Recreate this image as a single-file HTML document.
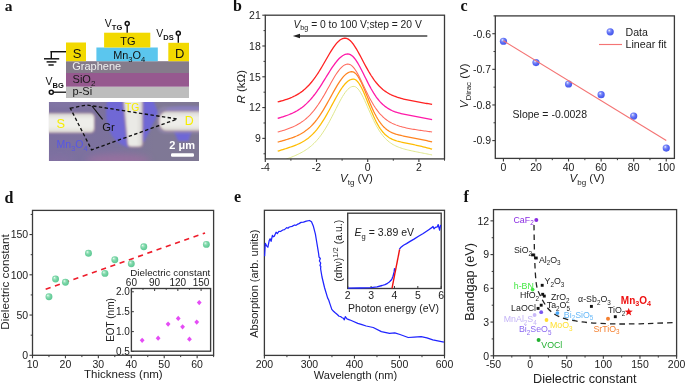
<!DOCTYPE html>
<html><head><meta charset="utf-8"><style>
html,body{margin:0;padding:0;background:#fff;}
svg{display:block;font-family:"Liberation Sans", sans-serif;will-change:transform;}
</style></head><body>
<svg width="685" height="384" viewBox="0 0 685 384">
<rect width="685" height="384" fill="#fff"/>
<text x="4.8" y="11" font-family="Liberation Serif" font-weight="bold" font-size="15.5" fill="#111">a</text>
<line x1="50.60" y1="51.70" x2="66.00" y2="51.70" stroke="#111" stroke-width="1.45" />
<line x1="51.30" y1="51.00" x2="51.30" y2="58.80" stroke="#111" stroke-width="1.45" />
<line x1="44.00" y1="58.80" x2="59.20" y2="58.80" stroke="#111" stroke-width="1.45" />
<line x1="46.60" y1="61.90" x2="56.40" y2="61.90" stroke="#111" stroke-width="1.45" />
<line x1="48.40" y1="65.00" x2="53.70" y2="65.00" stroke="#111" stroke-width="1.45" />
<rect x="66.00" y="61.20" width="123.00" height="11.80" fill="#857b8b" />
<rect x="66.00" y="73.00" width="123.00" height="13.80" fill="#96598f" />
<rect x="66.00" y="86.80" width="123.00" height="11.20" fill="#bdbdbd" />
<rect x="66.00" y="42.50" width="20.00" height="18.70" fill="#f2d900" />
<rect x="96.40" y="47.50" width="61.40" height="13.70" fill="#5bc6ee" />
<rect x="104.10" y="32.70" width="46.20" height="14.80" fill="#f2d900" />
<rect x="168.30" y="42.80" width="20.70" height="18.40" fill="#f2d900" />
<text x="77.10" y="57.60" font-size="13" text-anchor="middle" fill="#111" >S</text>
<text x="128.00" y="44.70" font-size="11" text-anchor="middle" fill="#111" >TG</text>
<text x="113.2" y="59" font-size="10.9" fill="#111">Mn<tspan font-size="7.6" dy="2.8">3</tspan><tspan dy="-2.8">O</tspan><tspan font-size="7.6" dy="2.8">4</tspan></text>
<text x="179.70" y="57.70" font-size="13" text-anchor="middle" fill="#111" >D</text>
<text x="72.20" y="70.20" font-size="11" text-anchor="start" fill="#eeeeee" >Graphene</text>
<text x="72.6" y="83.3" font-size="11" fill="#1a1a1a">SiO<tspan font-size="8" dy="2.5">2</tspan></text>
<text x="72.60" y="95.30" font-size="11" text-anchor="start" fill="#1a1a1a" >p-Si</text>
<line x1="127.20" y1="25.60" x2="127.20" y2="32.70" stroke="#111" stroke-width="1.4" />
<circle cx="127.2" cy="23.4" r="2.0" fill="#fff" stroke="#111" stroke-width="1.5"/>
<text x="104.8" y="27.1" font-size="10.5" fill="#111">V<tspan font-size="7.5" font-weight="bold" dy="2.6">TG</tspan></text>
<line x1="178.30" y1="35.50" x2="178.30" y2="42.80" stroke="#111" stroke-width="1.4" />
<circle cx="178.3" cy="33.3" r="2.0" fill="#fff" stroke="#111" stroke-width="1.5"/>
<text x="156.3" y="37.4" font-size="10.5" fill="#111">V<tspan font-size="7.5" font-weight="bold" dy="2.6">DS</tspan></text>
<line x1="53.50" y1="92.20" x2="66.00" y2="92.20" stroke="#111" stroke-width="1.3" />
<circle cx="51.3" cy="92.2" r="2.0" fill="#fff" stroke="#111" stroke-width="1.5"/>
<text x="45.5" y="85.3" font-size="10.5" fill="#111">V<tspan font-size="7.5" font-weight="bold" dy="2.6">BG</tspan></text>
<defs><clipPath id="mc"><rect x="48.8" y="102" width="150.2" height="59.0"/></clipPath><linearGradient id="mbg" x1="0" y1="0" x2="1" y2="0"><stop offset="0" stop-color="#7c70a0"/><stop offset="0.45" stop-color="#7c729c"/><stop offset="0.7" stop-color="#7f7896"/><stop offset="1" stop-color="#7f7894"/></linearGradient><filter id="bl" x="-30%" y="-30%" width="160%" height="160%"><feGaussianBlur stdDeviation="1.3"/></filter><filter id="bl3" x="-30%" y="-30%" width="160%" height="160%"><feGaussianBlur stdDeviation="3"/></filter><filter id="bl2" x="-30%" y="-30%" width="160%" height="160%"><feGaussianBlur stdDeviation="0.9"/></filter></defs>
<g clip-path="url(#mc)">
<rect x="48.80" y="102.00" width="150.20" height="59.00" fill="url(#mbg)" />
<g filter="url(#bl3)">
<ellipse cx="118" cy="160" rx="32" ry="6" fill="#9e70a0" opacity="0.75"/>
<ellipse cx="60" cy="160" rx="14" ry="3" fill="#8f6fa6" opacity="0.5"/>
<rect x="48" y="100" width="60" height="5" fill="#8a7fae" opacity="0.6"/>
</g>
<g filter="url(#bl)">
<path d="M107.5,100 C105,110 105.5,123 110.5,133 C114,140 121,146 129,147.5 L129,100 Z" fill="#6e66dc" opacity="0.9"/>
<path d="M140,100 L153,100 L158.5,113 L144,142 L140,142 Z" fill="#6e66dc" opacity="0.9"/>
<path d="M173.5,130 L192,130 L188.5,141 L178,141 Z" fill="#6c64e0" opacity="0.85"/>
<path d="M166,108.5 C172,106 190,106 200,107 L200,112 L166,112 Z" fill="#7a70d0" opacity="0.8"/>
</g>
<defs><linearGradient id="elv" x1="0" y1="0" x2="0" y2="1"><stop offset="0" stop-color="#d8d6d4"/><stop offset="0.3" stop-color="#eeeeea"/><stop offset="0.7" stop-color="#eeeeea"/><stop offset="1" stop-color="#dcdad4"/></linearGradient><linearGradient id="elh" x1="0" y1="0" x2="1" y2="0"><stop offset="0" stop-color="#d4d2d2"/><stop offset="0.3" stop-color="#eaeae6"/><stop offset="0.7" stop-color="#eaeae6"/><stop offset="1" stop-color="#d8d6d2"/></linearGradient></defs>
<g filter="url(#bl)" opacity="0.55">
<rect x="157" y="106.5" width="55" height="27" rx="8" fill="#968cb6"/>
</g>
<g filter="url(#bl2)">
<rect x="38" y="112.7" width="57" height="20.6" rx="4.5" fill="#a88096"/>
<path d="M121.8,92 L143.3,92 L143.3,143.5 Q143.3,147.6 139.3,147.6 L131,147.6 Q127,147.6 126.8,143.5 Z" fill="#a88096"/>
<rect x="158.6" y="110.8" width="52" height="20.6" rx="8" fill="#a88096"/>
<rect x="38" y="113.5" width="56" height="19" rx="4" fill="url(#elv)"/>
<path d="M122.8,92 L142.3,92 L142.3,143 Q142.3,146.6 138.8,146.6 L131.6,146.6 Q128,146.6 127.8,143 Z" fill="url(#elh)"/>
<rect x="159.6" y="111.6" width="50" height="19" rx="7.5" fill="url(#elv)"/>
</g>
</g>
<path d="M70.3,108.2 L86.5,105.0 L177.3,119.0 L91.6,149.8 Z" stroke="#111" stroke-width="1.35" fill="none" stroke-dasharray="3.4,2.4"/>
<line x1="92.00" y1="106.00" x2="102.60" y2="119.40" stroke="#111" stroke-width="1.2" />
<text x="102.20" y="130.90" font-size="11.3" text-anchor="start" fill="#111" >Gr</text>
<text x="56.6" y="148.2" font-size="10.5" fill="#5656e6">Mn<tspan font-size="7.4" dy="2.5">3</tspan><tspan dy="-2.5">O</tspan><tspan font-size="7.4" dy="2.5">4</tspan></text>
<text x="56.60" y="127.60" font-size="12.8" text-anchor="start" fill="#f6ee00" >S</text>
<text x="125.00" y="110.80" font-size="10.3" text-anchor="start" fill="#f6ee00" >TG</text>
<text x="184.80" y="124.90" font-size="12.4" text-anchor="start" fill="#f6ee00" >D</text>
<text x="169.3" y="149.1" font-size="11" font-weight="bold" fill="#fff">2 μm</text>
<rect x="171" y="153.3" width="23" height="3.5" rx="1.2" fill="#fff"/>
<text x="233" y="11" font-family="Liberation Serif" font-weight="bold" font-size="16" fill="#111">b</text>
<defs><clipPath id="cb"><rect x="265.3" y="15.2" width="179.2" height="143.7"/></clipPath></defs>
<g clip-path="url(#cb)">
<path d="M277.70,162.15 L279.00,161.70 L280.29,161.25 L281.59,160.79 L282.89,160.33 L284.19,159.87 L285.48,159.40 L286.78,158.93 L288.08,158.44 L289.38,157.95 L290.67,157.45 L291.97,156.93 L293.27,156.40 L294.57,155.85 L295.86,155.28 L297.16,154.69 L298.46,154.07 L299.76,153.43 L301.05,152.75 L302.35,152.04 L303.65,151.29 L304.95,150.50 L306.24,149.65 L307.54,148.76 L308.84,147.81 L310.14,146.80 L311.43,145.72 L312.73,144.56 L314.03,143.33 L315.33,142.02 L316.62,140.62 L317.92,139.13 L319.22,137.54 L320.52,135.85 L321.81,134.06 L323.11,132.17 L324.41,130.18 L325.71,128.08 L327.00,125.89 L328.30,123.60 L329.60,121.24 L330.90,118.79 L332.19,116.29 L333.49,113.75 L334.79,111.17 L336.09,108.59 L337.38,106.03 L338.68,103.51 L339.98,101.06 L341.28,98.71 L342.57,96.48 L343.87,94.41 L345.17,92.52 L346.47,90.85 L347.76,89.41 L349.06,88.23 L350.36,87.32 L351.66,86.71 L352.95,86.39 L354.25,86.41 L355.55,86.87 L356.85,87.77 L358.14,89.08 L359.44,90.77 L360.74,92.79 L362.04,95.10 L363.33,97.65 L364.63,100.38 L365.93,103.25 L367.23,106.19 L368.52,109.16 L369.82,112.12 L371.12,115.03 L372.42,117.86 L373.71,120.58 L375.01,123.17 L376.31,125.63 L377.61,127.93 L378.90,130.08 L380.20,132.07 L381.50,133.90 L382.80,135.58 L384.09,137.12 L385.39,138.53 L386.69,139.81 L387.99,140.96 L389.28,142.01 L390.58,142.97 L391.88,143.83 L393.18,144.61 L394.47,145.31 L395.77,145.96 L397.07,146.54 L398.37,147.08 L399.66,147.57 L400.96,148.03 L402.26,148.45 L403.56,148.84 L404.85,149.20 L406.15,149.55 L407.45,149.87 L408.75,150.18 L410.04,150.48 L411.34,150.77 L412.64,151.04 L413.94,151.32 L415.23,151.58 L416.53,151.84 L417.83,152.10 L419.13,152.36 L420.42,152.62 L421.72,152.87 L423.02,153.13 L424.32,153.38 L425.61,153.64 L426.91,153.90 L428.21,154.17 L429.51,154.43 L430.80,154.70 L432.10,154.98" stroke="#dfe78c" stroke-width="1.0" fill="none" stroke-linejoin="round"/>
<path d="M277.70,151.20 L279.00,150.79 L280.29,150.38 L281.59,149.97 L282.89,149.55 L284.19,149.14 L285.48,148.73 L286.78,148.31 L288.08,147.88 L289.38,147.45 L290.67,147.01 L291.97,146.55 L293.27,146.08 L294.57,145.58 L295.86,145.07 L297.16,144.53 L298.46,143.95 L299.76,143.34 L301.05,142.69 L302.35,142.00 L303.65,141.25 L304.95,140.45 L306.24,139.58 L307.54,138.65 L308.84,137.64 L310.14,136.56 L311.43,135.39 L312.73,134.14 L314.03,132.79 L315.33,131.35 L316.62,129.81 L317.92,128.18 L319.22,126.44 L320.52,124.61 L321.81,122.68 L323.11,120.65 L324.41,118.55 L325.71,116.36 L327.00,114.11 L328.30,111.79 L329.60,109.43 L330.90,107.04 L332.19,104.63 L333.49,102.23 L334.79,99.84 L336.09,97.48 L337.38,95.19 L338.68,92.98 L339.98,90.86 L341.28,88.86 L342.57,87.00 L343.87,85.30 L345.17,83.78 L346.47,82.44 L347.76,81.32 L349.06,80.41 L350.36,79.73 L351.66,79.29 L352.95,79.09 L354.25,79.20 L355.55,79.77 L356.85,80.80 L358.14,82.26 L359.44,84.11 L360.74,86.32 L362.04,88.83 L363.33,91.61 L364.63,94.58 L365.93,97.70 L367.23,100.91 L368.52,104.15 L369.82,107.38 L371.12,110.54 L372.42,113.61 L373.71,116.55 L375.01,119.33 L376.31,121.93 L377.61,124.34 L378.90,126.55 L380.20,128.57 L381.50,130.38 L382.80,132.00 L384.09,133.45 L385.39,134.72 L386.69,135.84 L387.99,136.82 L389.28,137.68 L390.58,138.42 L391.88,139.07 L393.18,139.64 L394.47,140.15 L395.77,140.59 L397.07,140.99 L398.37,141.35 L399.66,141.68 L400.96,141.99 L402.26,142.29 L403.56,142.57 L404.85,142.84 L406.15,143.10 L407.45,143.37 L408.75,143.63 L410.04,143.90 L411.34,144.17 L412.64,144.44 L413.94,144.71 L415.23,144.99 L416.53,145.28 L417.83,145.57 L419.13,145.86 L420.42,146.17 L421.72,146.48 L423.02,146.79 L424.32,147.11 L425.61,147.44 L426.91,147.77 L428.21,148.11 L429.51,148.46 L430.80,148.81 L432.10,149.17" stroke="#ffbc00" stroke-width="1.25" fill="none" stroke-linejoin="round"/>
<path d="M277.70,142.11 L279.00,141.75 L280.29,141.39 L281.59,141.03 L282.89,140.66 L284.19,140.29 L285.48,139.91 L286.78,139.52 L288.08,139.11 L289.38,138.69 L290.67,138.26 L291.97,137.80 L293.27,137.33 L294.57,136.82 L295.86,136.29 L297.16,135.72 L298.46,135.11 L299.76,134.45 L301.05,133.75 L302.35,133.00 L303.65,132.19 L304.95,131.32 L306.24,130.37 L307.54,129.36 L308.84,128.26 L310.14,127.09 L311.43,125.83 L312.73,124.47 L314.03,123.03 L315.33,121.49 L316.62,119.86 L317.92,118.13 L319.22,116.30 L320.52,114.39 L321.81,112.38 L323.11,110.30 L324.41,108.14 L325.71,105.91 L327.00,103.63 L328.30,101.31 L329.60,98.95 L330.90,96.59 L332.19,94.22 L333.49,91.88 L334.79,89.57 L336.09,87.32 L337.38,85.15 L338.68,83.08 L339.98,81.13 L341.28,79.31 L342.57,77.65 L343.87,76.17 L345.17,74.88 L346.47,73.79 L347.76,72.91 L349.06,72.26 L350.36,71.85 L351.66,71.67 L352.95,71.81 L354.25,72.40 L355.55,73.43 L356.85,74.87 L358.14,76.70 L359.44,78.87 L360.74,81.34 L362.04,84.07 L363.33,86.98 L364.63,90.04 L365.93,93.19 L367.23,96.38 L368.52,99.56 L369.82,102.69 L371.12,105.73 L372.42,108.65 L373.71,111.43 L375.01,114.04 L376.31,116.47 L377.61,118.72 L378.90,120.78 L380.20,122.65 L381.50,124.34 L382.80,125.85 L384.09,127.20 L385.39,128.40 L386.69,129.46 L387.99,130.39 L389.28,131.22 L390.58,131.94 L391.88,132.57 L393.18,133.13 L394.47,133.63 L395.77,134.07 L397.07,134.47 L398.37,134.83 L399.66,135.16 L400.96,135.47 L402.26,135.76 L403.56,136.03 L404.85,136.29 L406.15,136.55 L407.45,136.80 L408.75,137.04 L410.04,137.29 L411.34,137.53 L412.64,137.78 L413.94,138.03 L415.23,138.28 L416.53,138.53 L417.83,138.79 L419.13,139.05 L420.42,139.32 L421.72,139.59 L423.02,139.86 L424.32,140.14 L425.61,140.43 L426.91,140.72 L428.21,141.02 L429.51,141.32 L430.80,141.62 L432.10,141.94" stroke="#ff8420" stroke-width="1.25" fill="none" stroke-linejoin="round"/>
<path d="M277.70,132.00 L279.00,131.66 L280.29,131.30 L281.59,130.94 L282.89,130.56 L284.19,130.16 L285.48,129.74 L286.78,129.31 L288.08,128.85 L289.38,128.36 L290.67,127.85 L291.97,127.31 L293.27,126.74 L294.57,126.13 L295.86,125.49 L297.16,124.80 L298.46,124.06 L299.76,123.28 L301.05,122.44 L302.35,121.55 L303.65,120.60 L304.95,119.58 L306.24,118.49 L307.54,117.33 L308.84,116.09 L310.14,114.78 L311.43,113.38 L312.73,111.89 L314.03,110.32 L315.33,108.65 L316.62,106.90 L317.92,105.06 L319.22,103.13 L320.52,101.12 L321.81,99.03 L323.11,96.87 L324.41,94.64 L325.71,92.37 L327.00,90.06 L328.30,87.72 L329.60,85.38 L330.90,83.04 L332.19,80.75 L333.49,78.50 L334.79,76.34 L336.09,74.28 L337.38,72.35 L338.68,70.57 L339.98,68.96 L341.28,67.55 L342.57,66.36 L343.87,65.40 L345.17,64.68 L346.47,64.23 L347.76,64.04 L349.06,64.16 L350.36,64.67 L351.66,65.56 L352.95,66.79 L354.25,68.35 L355.55,70.20 L356.85,72.30 L358.14,74.61 L359.44,77.10 L360.74,79.70 L362.04,82.40 L363.33,85.14 L364.63,87.89 L365.93,90.62 L367.23,93.29 L368.52,95.89 L369.82,98.40 L371.12,100.80 L372.42,103.08 L373.71,105.24 L375.01,107.26 L376.31,109.16 L377.61,110.92 L378.90,112.55 L380.20,114.07 L381.50,115.46 L382.80,116.74 L384.09,117.91 L385.39,118.99 L386.69,119.98 L387.99,120.88 L389.28,121.70 L390.58,122.45 L391.88,123.14 L393.18,123.77 L394.47,124.35 L395.77,124.88 L397.07,125.37 L398.37,125.82 L399.66,126.23 L400.96,126.61 L402.26,126.97 L403.56,127.30 L404.85,127.61 L406.15,127.90 L407.45,128.18 L408.75,128.44 L410.04,128.69 L411.34,128.92 L412.64,129.15 L413.94,129.36 L415.23,129.57 L416.53,129.78 L417.83,129.98 L419.13,130.17 L420.42,130.36 L421.72,130.55 L423.02,130.73 L424.32,130.91 L425.61,131.09 L426.91,131.27 L428.21,131.45 L429.51,131.63 L430.80,131.81 L432.10,131.99" stroke="#ff6a5e" stroke-width="1.05" fill="none" stroke-linejoin="round"/>
<path d="M277.70,118.37 L279.00,118.00 L280.29,117.62 L281.59,117.23 L282.89,116.82 L284.19,116.40 L285.48,115.96 L286.78,115.50 L288.08,115.01 L289.38,114.50 L290.67,113.95 L291.97,113.38 L293.27,112.77 L294.57,112.12 L295.86,111.43 L297.16,110.69 L298.46,109.90 L299.76,109.05 L301.05,108.15 L302.35,107.19 L303.65,106.16 L304.95,105.06 L306.24,103.89 L307.54,102.65 L308.84,101.33 L310.14,99.93 L311.43,98.46 L312.73,96.91 L314.03,95.27 L315.33,93.57 L316.62,91.79 L317.92,89.94 L319.22,88.02 L320.52,86.05 L321.81,84.03 L323.11,81.97 L324.41,79.88 L325.71,77.77 L327.00,75.66 L328.30,73.56 L329.60,71.49 L330.90,69.45 L332.19,67.48 L333.49,65.57 L334.79,63.76 L336.09,62.06 L337.38,60.48 L338.68,59.05 L339.98,57.77 L341.28,56.66 L342.57,55.73 L343.87,54.99 L345.17,54.45 L346.47,54.11 L347.76,53.98 L349.06,54.13 L350.36,54.62 L351.66,55.43 L352.95,56.56 L354.25,57.98 L355.55,59.66 L356.85,61.58 L358.14,63.71 L359.44,66.01 L360.74,68.44 L362.04,70.97 L363.33,73.56 L364.63,76.18 L365.93,78.79 L367.23,81.38 L368.52,83.92 L369.82,86.37 L371.12,88.74 L372.42,90.99 L373.71,93.13 L375.01,95.14 L376.31,97.02 L377.61,98.77 L378.90,100.38 L380.20,101.87 L381.50,103.23 L382.80,104.48 L384.09,105.61 L385.39,106.64 L386.69,107.57 L387.99,108.41 L389.28,109.17 L390.58,109.86 L391.88,110.48 L393.18,111.05 L394.47,111.56 L395.77,112.02 L397.07,112.45 L398.37,112.84 L399.66,113.20 L400.96,113.54 L402.26,113.85 L403.56,114.15 L404.85,114.43 L406.15,114.70 L407.45,114.96 L408.75,115.20 L410.04,115.45 L411.34,115.69 L412.64,115.92 L413.94,116.16 L415.23,116.39 L416.53,116.62 L417.83,116.85 L419.13,117.08 L420.42,117.32 L421.72,117.55 L423.02,117.79 L424.32,118.03 L425.61,118.27 L426.91,118.52 L428.21,118.77 L429.51,119.02 L430.80,119.28 L432.10,119.54" stroke="#ff1aa8" stroke-width="1.3" fill="none" stroke-linejoin="round"/>
<path d="M277.70,101.93 L279.00,101.60 L280.29,101.25 L281.59,100.89 L282.89,100.51 L284.19,100.11 L285.48,99.70 L286.78,99.26 L288.08,98.80 L289.38,98.31 L290.67,97.79 L291.97,97.24 L293.27,96.65 L294.57,96.02 L295.86,95.34 L297.16,94.62 L298.46,93.84 L299.76,93.00 L301.05,92.11 L302.35,91.15 L303.65,90.12 L304.95,89.01 L306.24,87.83 L307.54,86.56 L308.84,85.21 L310.14,83.78 L311.43,82.25 L312.73,80.63 L314.03,78.93 L315.33,77.13 L316.62,75.25 L317.92,73.28 L319.22,71.24 L320.52,69.14 L321.81,66.97 L323.11,64.75 L324.41,62.51 L325.71,60.24 L327.00,57.98 L328.30,55.73 L329.60,53.53 L330.90,51.39 L332.19,49.33 L333.49,47.39 L334.79,45.57 L336.09,43.91 L337.38,42.43 L338.68,41.14 L339.98,40.06 L341.28,39.22 L342.57,38.61 L343.87,38.26 L345.17,38.16 L346.47,38.36 L347.76,38.86 L349.06,39.67 L350.36,40.76 L351.66,42.12 L352.95,43.73 L354.25,45.54 L355.55,47.55 L356.85,49.71 L358.14,51.99 L359.44,54.36 L360.74,56.80 L362.04,59.27 L363.33,61.74 L364.63,64.19 L365.93,66.60 L367.23,68.94 L368.52,71.22 L369.82,73.40 L371.12,75.49 L372.42,77.47 L373.71,79.34 L375.01,81.10 L376.31,82.75 L377.61,84.28 L378.90,85.71 L380.20,87.04 L381.50,88.26 L382.80,89.39 L384.09,90.43 L385.39,91.38 L386.69,92.26 L387.99,93.07 L389.28,93.81 L390.58,94.49 L391.88,95.12 L393.18,95.70 L394.47,96.23 L395.77,96.72 L397.07,97.18 L398.37,97.60 L399.66,97.99 L400.96,98.36 L402.26,98.71 L403.56,99.04 L404.85,99.35 L406.15,99.65 L407.45,99.93 L408.75,100.20 L410.04,100.47 L411.34,100.72 L412.64,100.97 L413.94,101.21 L415.23,101.45 L416.53,101.68 L417.83,101.91 L419.13,102.14 L420.42,102.37 L421.72,102.60 L423.02,102.82 L424.32,103.05 L425.61,103.28 L426.91,103.50 L428.21,103.73 L429.51,103.96 L430.80,104.19 L432.10,104.43" stroke="#ff2222" stroke-width="1.3" fill="none" stroke-linejoin="round"/>
</g>
<rect x="265.30" y="15.20" width="179.20" height="143.70" fill="none" stroke="#3a3a3a" stroke-width="1.3"/>
<line x1="262.30" y1="138.37" x2="265.30" y2="138.37" stroke="#3a3a3a" stroke-width="1.1" />
<text x="260.80" y="142.17" font-size="10.5" text-anchor="end" fill="#222" >9</text>
<line x1="262.30" y1="107.58" x2="265.30" y2="107.58" stroke="#3a3a3a" stroke-width="1.1" />
<text x="260.80" y="111.38" font-size="10.5" text-anchor="end" fill="#222" >12</text>
<line x1="262.30" y1="76.79" x2="265.30" y2="76.79" stroke="#3a3a3a" stroke-width="1.1" />
<text x="260.80" y="80.59" font-size="10.5" text-anchor="end" fill="#222" >15</text>
<line x1="262.30" y1="45.99" x2="265.30" y2="45.99" stroke="#3a3a3a" stroke-width="1.1" />
<text x="260.80" y="49.79" font-size="10.5" text-anchor="end" fill="#222" >18</text>
<line x1="262.30" y1="15.20" x2="265.30" y2="15.20" stroke="#3a3a3a" stroke-width="1.1" />
<text x="260.80" y="19.00" font-size="10.5" text-anchor="end" fill="#222" >21</text>
<line x1="263.50" y1="122.97" x2="265.30" y2="122.97" stroke="#3a3a3a" stroke-width="1.0" />
<line x1="263.50" y1="92.18" x2="265.30" y2="92.18" stroke="#3a3a3a" stroke-width="1.0" />
<line x1="263.50" y1="61.39" x2="265.30" y2="61.39" stroke="#3a3a3a" stroke-width="1.0" />
<line x1="263.50" y1="30.60" x2="265.30" y2="30.60" stroke="#3a3a3a" stroke-width="1.0" />
<line x1="263.50" y1="153.77" x2="265.30" y2="153.77" stroke="#3a3a3a" stroke-width="1.0" />
<line x1="265.30" y1="158.90" x2="265.30" y2="161.90" stroke="#3a3a3a" stroke-width="1.1" />
<text x="265.30" y="170.90" font-size="10.5" text-anchor="middle" fill="#222" >-4</text>
<line x1="290.90" y1="158.90" x2="290.90" y2="160.70" stroke="#3a3a3a" stroke-width="1.0" />
<line x1="316.50" y1="158.90" x2="316.50" y2="161.90" stroke="#3a3a3a" stroke-width="1.1" />
<text x="316.50" y="170.90" font-size="10.5" text-anchor="middle" fill="#222" >-2</text>
<line x1="342.10" y1="158.90" x2="342.10" y2="160.70" stroke="#3a3a3a" stroke-width="1.0" />
<line x1="367.70" y1="158.90" x2="367.70" y2="161.90" stroke="#3a3a3a" stroke-width="1.1" />
<text x="367.70" y="170.90" font-size="10.5" text-anchor="middle" fill="#222" >0</text>
<line x1="393.30" y1="158.90" x2="393.30" y2="160.70" stroke="#3a3a3a" stroke-width="1.0" />
<line x1="418.90" y1="158.90" x2="418.90" y2="161.90" stroke="#3a3a3a" stroke-width="1.1" />
<text x="418.90" y="170.90" font-size="10.5" text-anchor="middle" fill="#222" >2</text>
<line x1="444.50" y1="158.90" x2="444.50" y2="160.70" stroke="#3a3a3a" stroke-width="1.0" />
<text x="340" y="182.4" font-size="11.5" fill="#222"><tspan font-style="italic">V</tspan><tspan font-size="8" dy="3">tg</tspan><tspan dy="-3"> (V)</tspan></text>
<text transform="translate(244.8,86.8) rotate(-90)" font-size="11.5" text-anchor="middle" fill="#222"><tspan font-style="italic">R</tspan> (kΩ)</text>
<text x="293.4" y="28" font-size="10.3" fill="#222"><tspan font-style="italic">V</tspan><tspan font-size="7.2" dy="2.0">bg</tspan><tspan dy="-2.0"> = 0 to 100 V;step = 20 V</tspan></text>
<line x1="298.00" y1="36.00" x2="427.30" y2="36.00" stroke="#444" stroke-width="1.3" />
<path d="M292.8,36 L300,33.8 L300,38.2 Z" fill="#222"/>
<text x="460.5" y="11" font-family="Liberation Serif" font-weight="bold" font-size="16" fill="#111">c</text>
<rect x="495.30" y="15.90" width="179.10" height="142.50" fill="none" stroke="#3a3a3a" stroke-width="1.3"/>
<line x1="492.30" y1="140.59" x2="495.30" y2="140.59" stroke="#3a3a3a" stroke-width="1.1" />
<text x="491.00" y="144.39" font-size="10.5" text-anchor="end" fill="#222" >-0.9</text>
<line x1="492.30" y1="104.96" x2="495.30" y2="104.96" stroke="#3a3a3a" stroke-width="1.1" />
<text x="491.00" y="108.76" font-size="10.5" text-anchor="end" fill="#222" >-0.8</text>
<line x1="492.30" y1="69.34" x2="495.30" y2="69.34" stroke="#3a3a3a" stroke-width="1.1" />
<text x="491.00" y="73.14" font-size="10.5" text-anchor="end" fill="#222" >-0.7</text>
<line x1="492.30" y1="33.71" x2="495.30" y2="33.71" stroke="#3a3a3a" stroke-width="1.1" />
<text x="491.00" y="37.51" font-size="10.5" text-anchor="end" fill="#222" >-0.6</text>
<line x1="493.50" y1="122.78" x2="495.30" y2="122.78" stroke="#3a3a3a" stroke-width="1.0" />
<line x1="493.50" y1="87.15" x2="495.30" y2="87.15" stroke="#3a3a3a" stroke-width="1.0" />
<line x1="493.50" y1="51.53" x2="495.30" y2="51.53" stroke="#3a3a3a" stroke-width="1.0" />
<line x1="493.50" y1="15.90" x2="495.30" y2="15.90" stroke="#3a3a3a" stroke-width="1.0" />
<line x1="503.44" y1="158.40" x2="503.44" y2="161.40" stroke="#3a3a3a" stroke-width="1.1" />
<text x="503.44" y="170.90" font-size="10.5" text-anchor="middle" fill="#222" >0</text>
<line x1="536.00" y1="158.40" x2="536.00" y2="161.40" stroke="#3a3a3a" stroke-width="1.1" />
<text x="536.00" y="170.90" font-size="10.5" text-anchor="middle" fill="#222" >20</text>
<line x1="568.57" y1="158.40" x2="568.57" y2="161.40" stroke="#3a3a3a" stroke-width="1.1" />
<text x="568.57" y="170.90" font-size="10.5" text-anchor="middle" fill="#222" >40</text>
<line x1="601.13" y1="158.40" x2="601.13" y2="161.40" stroke="#3a3a3a" stroke-width="1.1" />
<text x="601.13" y="170.90" font-size="10.5" text-anchor="middle" fill="#222" >60</text>
<line x1="633.70" y1="158.40" x2="633.70" y2="161.40" stroke="#3a3a3a" stroke-width="1.1" />
<text x="633.70" y="170.90" font-size="10.5" text-anchor="middle" fill="#222" >80</text>
<line x1="666.26" y1="158.40" x2="666.26" y2="161.40" stroke="#3a3a3a" stroke-width="1.1" />
<text x="666.26" y="170.90" font-size="10.5" text-anchor="middle" fill="#222" >100</text>
<line x1="519.72" y1="158.40" x2="519.72" y2="160.20" stroke="#3a3a3a" stroke-width="1.0" />
<line x1="552.29" y1="158.40" x2="552.29" y2="160.20" stroke="#3a3a3a" stroke-width="1.0" />
<line x1="584.85" y1="158.40" x2="584.85" y2="160.20" stroke="#3a3a3a" stroke-width="1.0" />
<line x1="617.41" y1="158.40" x2="617.41" y2="160.20" stroke="#3a3a3a" stroke-width="1.0" />
<line x1="649.98" y1="158.40" x2="649.98" y2="160.20" stroke="#3a3a3a" stroke-width="1.0" />
<text x="569.6" y="181.5" font-size="11.5" fill="#222"><tspan font-style="italic">V</tspan><tspan font-size="8" dy="3">bg</tspan><tspan dy="-3"> (V)</tspan></text>
<text transform="translate(467.5,85.8) rotate(-90)" font-size="11.5" text-anchor="middle" fill="#222"><tspan font-style="italic">V</tspan><tspan font-size="8" dy="3">Dirac</tspan><tspan dy="-3"> (V)</tspan></text>
<defs><radialGradient id="gc" cx="0.4" cy="0.38" r="0.62" fx="0.36" fy="0.32"><stop offset="0" stop-color="#f4f6ff"/><stop offset="0.28" stop-color="#8a98fa"/><stop offset="0.6" stop-color="#5b6cf5"/><stop offset="1" stop-color="#4658ea"/></radialGradient><radialGradient id="gd" cx="0.45" cy="0.45" r="0.6" fx="0.33" fy="0.3"><stop offset="0" stop-color="#f4fff8"/><stop offset="0.22" stop-color="#a8e8c6"/><stop offset="0.5" stop-color="#7cd6a8"/><stop offset="1" stop-color="#58c690"/></radialGradient></defs>
<circle cx="503.44" cy="41.24" r="3.6" fill="url(#gc)"/>
<circle cx="536.00" cy="62.61" r="3.6" fill="url(#gc)"/>
<circle cx="568.57" cy="83.99" r="3.6" fill="url(#gc)"/>
<circle cx="601.13" cy="94.68" r="3.6" fill="url(#gc)"/>
<circle cx="633.70" cy="116.05" r="3.6" fill="url(#gc)"/>
<circle cx="666.26" cy="148.11" r="3.6" fill="url(#gc)"/>
<line x1="503.44" y1="40.84" x2="666.26" y2="140.59" stroke="#f47474" stroke-width="1.15" />
<circle cx="610.2" cy="31.8" r="3.6" fill="url(#gc)"/>
<text x="625.50" y="36.20" font-size="10.6" text-anchor="start" fill="#222" >Data</text>
<line x1="599.00" y1="44.50" x2="622.00" y2="44.50" stroke="#f47474" stroke-width="1.15" />
<text x="625.50" y="48.40" font-size="10.7" text-anchor="start" fill="#222" >Linear fit</text>
<text x="512.60" y="118.20" font-size="10.5" text-anchor="start" fill="#222" >Slope = -0.0028</text>
<text x="4.6" y="202.6" font-family="Liberation Serif" font-weight="bold" font-size="16" fill="#111">d</text>
<rect x="32.50" y="210.40" width="181.10" height="144.90" fill="none" stroke="#3a3a3a" stroke-width="1.3"/>
<line x1="29.50" y1="355.30" x2="32.50" y2="355.30" stroke="#3a3a3a" stroke-width="1.1" />
<text x="28.20" y="359.10" font-size="10.5" text-anchor="end" fill="#222" >0</text>
<line x1="29.50" y1="315.05" x2="32.50" y2="315.05" stroke="#3a3a3a" stroke-width="1.1" />
<text x="28.20" y="318.85" font-size="10.5" text-anchor="end" fill="#222" >50</text>
<line x1="29.50" y1="274.80" x2="32.50" y2="274.80" stroke="#3a3a3a" stroke-width="1.1" />
<text x="28.20" y="278.60" font-size="10.5" text-anchor="end" fill="#222" >100</text>
<line x1="29.50" y1="234.55" x2="32.50" y2="234.55" stroke="#3a3a3a" stroke-width="1.1" />
<text x="28.20" y="238.35" font-size="10.5" text-anchor="end" fill="#222" >150</text>
<line x1="30.70" y1="335.18" x2="32.50" y2="335.18" stroke="#3a3a3a" stroke-width="1.0" />
<line x1="30.70" y1="294.93" x2="32.50" y2="294.93" stroke="#3a3a3a" stroke-width="1.0" />
<line x1="30.70" y1="254.68" x2="32.50" y2="254.68" stroke="#3a3a3a" stroke-width="1.0" />
<line x1="30.70" y1="214.43" x2="32.50" y2="214.43" stroke="#3a3a3a" stroke-width="1.0" />
<line x1="32.50" y1="355.30" x2="32.50" y2="358.30" stroke="#3a3a3a" stroke-width="1.1" />
<text x="32.50" y="367.80" font-size="10.5" text-anchor="middle" fill="#222" >10</text>
<line x1="65.43" y1="355.30" x2="65.43" y2="358.30" stroke="#3a3a3a" stroke-width="1.1" />
<text x="65.43" y="367.80" font-size="10.5" text-anchor="middle" fill="#222" >20</text>
<line x1="98.35" y1="355.30" x2="98.35" y2="358.30" stroke="#3a3a3a" stroke-width="1.1" />
<text x="98.35" y="367.80" font-size="10.5" text-anchor="middle" fill="#222" >30</text>
<line x1="131.28" y1="355.30" x2="131.28" y2="358.30" stroke="#3a3a3a" stroke-width="1.1" />
<text x="131.28" y="367.80" font-size="10.5" text-anchor="middle" fill="#222" >40</text>
<line x1="164.21" y1="355.30" x2="164.21" y2="358.30" stroke="#3a3a3a" stroke-width="1.1" />
<text x="164.21" y="367.80" font-size="10.5" text-anchor="middle" fill="#222" >50</text>
<line x1="197.14" y1="355.30" x2="197.14" y2="358.30" stroke="#3a3a3a" stroke-width="1.1" />
<text x="197.14" y="367.80" font-size="10.5" text-anchor="middle" fill="#222" >60</text>
<line x1="48.96" y1="355.30" x2="48.96" y2="357.10" stroke="#3a3a3a" stroke-width="1.0" />
<line x1="81.89" y1="355.30" x2="81.89" y2="357.10" stroke="#3a3a3a" stroke-width="1.0" />
<line x1="114.82" y1="355.30" x2="114.82" y2="357.10" stroke="#3a3a3a" stroke-width="1.0" />
<line x1="147.75" y1="355.30" x2="147.75" y2="357.10" stroke="#3a3a3a" stroke-width="1.0" />
<line x1="180.67" y1="355.30" x2="180.67" y2="357.10" stroke="#3a3a3a" stroke-width="1.0" />
<line x1="213.60" y1="355.30" x2="213.60" y2="357.10" stroke="#3a3a3a" stroke-width="1.0" />
<text x="123.40" y="377.60" font-size="11.5" text-anchor="middle" fill="#222" >Thickness (nm)</text>
<text transform="translate(9.0,282) rotate(-90)" font-size="11.7" text-anchor="middle" fill="#222">Dielectric constant</text>
<line x1="45.67" y1="289.29" x2="205.04" y2="232.94" stroke="#ee1c2a" stroke-width="1.6" stroke-dasharray="5.2,4.6"/>
<circle cx="48.96" cy="296.74" r="3.45" fill="url(#gd)"/>
<circle cx="55.55" cy="279.03" r="3.45" fill="url(#gd)"/>
<circle cx="65.43" cy="282.25" r="3.45" fill="url(#gd)"/>
<circle cx="88.48" cy="253.26" r="3.45" fill="url(#gd)"/>
<circle cx="104.94" cy="273.39" r="3.45" fill="url(#gd)"/>
<circle cx="114.82" cy="259.70" r="3.45" fill="url(#gd)"/>
<circle cx="131.28" cy="263.73" r="3.45" fill="url(#gd)"/>
<circle cx="143.79" cy="246.82" r="3.45" fill="url(#gd)"/>
<circle cx="206.36" cy="244.41" r="3.45" fill="url(#gd)"/>
<rect x="131.40" y="288.50" width="79.20" height="62.70" fill="#fff" />
<rect x="131.40" y="288.50" width="79.20" height="62.70" fill="none" stroke="#3c3c3c" stroke-width="1.35"/>
<line x1="131.40" y1="288.50" x2="131.40" y2="291.00" stroke="#3a3a3a" stroke-width="1.0" />
<text x="131.40" y="285.50" font-size="10" text-anchor="middle" fill="#222" >60</text>
<line x1="154.63" y1="288.50" x2="154.63" y2="291.00" stroke="#3a3a3a" stroke-width="1.0" />
<text x="154.63" y="285.50" font-size="10" text-anchor="middle" fill="#222" >90</text>
<line x1="177.85" y1="288.50" x2="177.85" y2="291.00" stroke="#3a3a3a" stroke-width="1.0" />
<text x="177.85" y="285.50" font-size="10" text-anchor="middle" fill="#222" >120</text>
<line x1="201.08" y1="288.50" x2="201.08" y2="291.00" stroke="#3a3a3a" stroke-width="1.0" />
<text x="201.08" y="285.50" font-size="10" text-anchor="middle" fill="#222" >150</text>
<line x1="143.01" y1="288.50" x2="143.01" y2="290.00" stroke="#3a3a3a" stroke-width="0.9" />
<line x1="166.24" y1="288.50" x2="166.24" y2="290.00" stroke="#3a3a3a" stroke-width="0.9" />
<line x1="189.46" y1="288.50" x2="189.46" y2="290.00" stroke="#3a3a3a" stroke-width="0.9" />
<line x1="131.40" y1="351.50" x2="133.90" y2="351.50" stroke="#3a3a3a" stroke-width="1.0" />
<text x="129.90" y="355.10" font-size="10" text-anchor="end" fill="#222" >0.5</text>
<line x1="131.40" y1="331.60" x2="133.90" y2="331.60" stroke="#3a3a3a" stroke-width="1.0" />
<text x="129.90" y="335.20" font-size="10" text-anchor="end" fill="#222" >1.0</text>
<line x1="131.40" y1="311.70" x2="133.90" y2="311.70" stroke="#3a3a3a" stroke-width="1.0" />
<text x="129.90" y="315.30" font-size="10" text-anchor="end" fill="#222" >1.5</text>
<line x1="131.40" y1="291.80" x2="133.90" y2="291.80" stroke="#3a3a3a" stroke-width="1.0" />
<text x="129.90" y="295.40" font-size="10" text-anchor="end" fill="#222" >2.0</text>
<text x="170.30" y="276.40" font-size="9.8" text-anchor="middle" fill="#222" >Dielectric constant</text>
<text transform="translate(113.8,320) rotate(-90)" font-size="10" text-anchor="middle" fill="#222">EOT (nm)</text>
<path d="M142.16,337.76 L144.56,340.36 L142.16,342.96 L139.76,340.36 Z" fill="#e54cf5"/>
<path d="M158.11,335.57 L160.51,338.17 L158.11,340.77 L155.71,338.17 Z" fill="#e54cf5"/>
<path d="M168.10,321.44 L170.50,324.04 L168.10,326.64 L165.70,324.04 Z" fill="#e54cf5"/>
<path d="M178.24,315.87 L180.64,318.47 L178.24,321.07 L175.84,318.47 Z" fill="#e54cf5"/>
<path d="M182.57,324.22 L184.97,326.82 L182.57,329.42 L180.17,326.82 Z" fill="#e54cf5"/>
<path d="M189.46,336.56 L191.86,339.16 L189.46,341.76 L187.06,339.16 Z" fill="#e54cf5"/>
<path d="M196.74,319.45 L199.14,322.05 L196.74,324.65 L194.34,322.05 Z" fill="#e54cf5"/>
<path d="M199.22,299.95 L201.62,302.55 L199.22,305.15 L196.82,302.55 Z" fill="#e54cf5"/>
<text x="234" y="202" font-family="Liberation Serif" font-weight="bold" font-size="16" fill="#111">e</text>
<rect x="264.40" y="210.30" width="180.10" height="145.10" fill="none" stroke="#3a3a3a" stroke-width="1.3"/>
<line x1="264.40" y1="355.40" x2="264.40" y2="358.40" stroke="#3a3a3a" stroke-width="1.1" />
<text x="264.40" y="367.90" font-size="10.5" text-anchor="middle" fill="#222" >200</text>
<line x1="309.42" y1="355.40" x2="309.42" y2="358.40" stroke="#3a3a3a" stroke-width="1.1" />
<text x="309.42" y="367.90" font-size="10.5" text-anchor="middle" fill="#222" >300</text>
<line x1="354.45" y1="355.40" x2="354.45" y2="358.40" stroke="#3a3a3a" stroke-width="1.1" />
<text x="354.45" y="367.90" font-size="10.5" text-anchor="middle" fill="#222" >400</text>
<line x1="399.48" y1="355.40" x2="399.48" y2="358.40" stroke="#3a3a3a" stroke-width="1.1" />
<text x="399.48" y="367.90" font-size="10.5" text-anchor="middle" fill="#222" >500</text>
<line x1="444.50" y1="355.40" x2="444.50" y2="358.40" stroke="#3a3a3a" stroke-width="1.1" />
<text x="444.50" y="367.90" font-size="10.5" text-anchor="middle" fill="#222" >600</text>
<line x1="286.91" y1="355.40" x2="286.91" y2="357.20" stroke="#3a3a3a" stroke-width="1.0" />
<line x1="331.94" y1="355.40" x2="331.94" y2="357.20" stroke="#3a3a3a" stroke-width="1.0" />
<line x1="376.96" y1="355.40" x2="376.96" y2="357.20" stroke="#3a3a3a" stroke-width="1.0" />
<line x1="421.99" y1="355.40" x2="421.99" y2="357.20" stroke="#3a3a3a" stroke-width="1.0" />
<text x="355.50" y="379.00" font-size="11" text-anchor="middle" fill="#222" >Wavelength (nm)</text>
<text transform="translate(257.5,283.7) rotate(-90)" font-size="11" text-anchor="middle" fill="#222">Absorption (arb. units)</text>
<path d="M264.60,256.30 L265.30,243.30 L266.60,245.90 L267.90,247.20 L269.20,240.60 L270.10,238.70 L271.10,241.30 L272.40,235.40 L273.20,236.80 L274.40,236.10 L276.10,232.20 L277.40,233.50 L278.90,231.30 L280.50,231.50 L282.80,230.00 L284.50,229.60 L286.70,227.60 L288.00,228.20 L289.30,227.00 L292.00,226.40 L294.60,225.00 L296.00,225.30 L297.20,224.40 L299.00,223.60 L301.10,222.40 L303.50,222.20 L306.30,221.10 L309.50,220.50 L311.50,221.80 L313.40,226.30 L315.40,234.10 L316.70,242.00 L318.00,249.80 L318.60,253.50 L319.00,257.00 L320.30,258.50 L319.40,261.00 L320.70,263.00 L320.00,265.50 L320.80,266.50 L320.60,268.75 L322.00,277.00 L324.50,287.50 L327.60,297.90 L328.70,300.00 L329.70,303.10 L331.80,309.40 L333.50,311.20 L334.90,312.50 L337.00,314.20 L339.10,316.25 L340.50,316.50 L342.20,317.70 L343.30,318.20 L344.30,319.80 L345.30,316.70 L347.00,318.80 L349.50,319.80 L353.00,321.30 L357.80,323.30 L362.00,324.60 L366.20,326.00 L373.20,327.50 L381.40,331.60 L389.50,333.40 L394.80,332.80 L400.00,334.50 L408.20,337.50 L414.10,337.10 L421.10,336.60 L426.90,337.80 L432.80,339.80 L443.90,342.10" stroke="#1f24ff" stroke-width="1.25" fill="none" stroke-linejoin="round"/>
<rect x="347.70" y="213.20" width="93.50" height="75.30" fill="#fff" />
<rect x="347.70" y="213.20" width="93.50" height="75.30" fill="none" stroke="#3c3c3c" stroke-width="1.35"/>
<line x1="347.70" y1="288.50" x2="347.70" y2="286.00" stroke="#3a3a3a" stroke-width="1.0" />
<text x="347.70" y="299.00" font-size="10.5" text-anchor="middle" fill="#222" >2</text>
<line x1="371.07" y1="288.50" x2="371.07" y2="286.00" stroke="#3a3a3a" stroke-width="1.0" />
<text x="371.07" y="299.00" font-size="10.5" text-anchor="middle" fill="#222" >3</text>
<line x1="394.45" y1="288.50" x2="394.45" y2="286.00" stroke="#3a3a3a" stroke-width="1.0" />
<text x="394.45" y="299.00" font-size="10.5" text-anchor="middle" fill="#222" >4</text>
<line x1="417.82" y1="288.50" x2="417.82" y2="286.00" stroke="#3a3a3a" stroke-width="1.0" />
<text x="417.82" y="299.00" font-size="10.5" text-anchor="middle" fill="#222" >5</text>
<line x1="441.20" y1="288.50" x2="441.20" y2="286.00" stroke="#3a3a3a" stroke-width="1.0" />
<text x="441.20" y="299.00" font-size="10.5" text-anchor="middle" fill="#222" >6</text>
<text x="393.60" y="311.80" font-size="10.5" text-anchor="middle" fill="#222" >Photon energy (eV)</text>
<text transform="translate(341.5,250.8) rotate(-90)" font-size="10.5" text-anchor="middle" fill="#222">(αhν)<tspan font-size="7.5" dy="-3.5">1/2</tspan><tspan dy="3.5"> (a.u.)</tspan></text>
<text x="354.6" y="236" font-size="10.5" fill="#222"><tspan font-style="italic">E</tspan><tspan font-size="7.6" dy="3">g</tspan><tspan dy="-3"> = 3.89 eV</tspan></text>
<path d="M348.00,288.20 L360.00,288.00 L371.10,287.70 L377.00,286.80 L382.10,285.50 L385.00,284.60 L387.50,283.30 L389.30,282.00 L390.80,280.60 L392.00,278.80 L393.00,276.20 L393.70,273.80 L394.10,271.90 L394.60,268.20" stroke="#1f24ff" stroke-width="1.3" fill="none" stroke-linejoin="round"/>
<path d="M399.30,249.30 L401.00,247.20 L403.50,245.20 L406.50,243.60 L410.10,241.40 L414.00,239.10 L418.50,236.30 L423.20,233.50 L428.80,229.70 L432.10,227.40 L433.00,226.40 L434.00,228.80 L435.40,227.40 L437.20,226.90 L438.20,224.60 L439.60,230.20 L440.50,225.50 L441.00,225.80" stroke="#1f24ff" stroke-width="1.3" fill="none" stroke-linejoin="round"/>
<line x1="392.00" y1="288.30" x2="399.60" y2="249.50" stroke="#ee1111" stroke-width="1.4" />
<text x="463.5" y="202" font-family="Liberation Serif" font-weight="bold" font-size="16" fill="#111">f</text>
<rect x="493.50" y="209.60" width="183.10" height="146.20" fill="none" stroke="#3a3a3a" stroke-width="1.3"/>
<line x1="490.50" y1="355.80" x2="493.50" y2="355.80" stroke="#3a3a3a" stroke-width="1.1" />
<text x="489.20" y="359.60" font-size="10.5" text-anchor="end" fill="#222" >0</text>
<line x1="490.50" y1="322.06" x2="493.50" y2="322.06" stroke="#3a3a3a" stroke-width="1.1" />
<text x="489.20" y="325.86" font-size="10.5" text-anchor="end" fill="#222" >3</text>
<line x1="490.50" y1="288.32" x2="493.50" y2="288.32" stroke="#3a3a3a" stroke-width="1.1" />
<text x="489.20" y="292.12" font-size="10.5" text-anchor="end" fill="#222" >6</text>
<line x1="490.50" y1="254.58" x2="493.50" y2="254.58" stroke="#3a3a3a" stroke-width="1.1" />
<text x="489.20" y="258.38" font-size="10.5" text-anchor="end" fill="#222" >9</text>
<line x1="490.50" y1="220.85" x2="493.50" y2="220.85" stroke="#3a3a3a" stroke-width="1.1" />
<text x="489.20" y="224.65" font-size="10.5" text-anchor="end" fill="#222" >12</text>
<line x1="491.70" y1="338.93" x2="493.50" y2="338.93" stroke="#3a3a3a" stroke-width="1.0" />
<line x1="491.70" y1="305.19" x2="493.50" y2="305.19" stroke="#3a3a3a" stroke-width="1.0" />
<line x1="491.70" y1="271.45" x2="493.50" y2="271.45" stroke="#3a3a3a" stroke-width="1.0" />
<line x1="491.70" y1="237.72" x2="493.50" y2="237.72" stroke="#3a3a3a" stroke-width="1.0" />
<line x1="493.50" y1="355.80" x2="493.50" y2="358.80" stroke="#3a3a3a" stroke-width="1.1" />
<text x="493.50" y="368.30" font-size="10.5" text-anchor="middle" fill="#222" >-50</text>
<line x1="530.12" y1="355.80" x2="530.12" y2="358.80" stroke="#3a3a3a" stroke-width="1.1" />
<text x="530.12" y="368.30" font-size="10.5" text-anchor="middle" fill="#222" >0</text>
<line x1="566.74" y1="355.80" x2="566.74" y2="358.80" stroke="#3a3a3a" stroke-width="1.1" />
<text x="566.74" y="368.30" font-size="10.5" text-anchor="middle" fill="#222" >50</text>
<line x1="603.36" y1="355.80" x2="603.36" y2="358.80" stroke="#3a3a3a" stroke-width="1.1" />
<text x="603.36" y="368.30" font-size="10.5" text-anchor="middle" fill="#222" >100</text>
<line x1="639.98" y1="355.80" x2="639.98" y2="358.80" stroke="#3a3a3a" stroke-width="1.1" />
<text x="639.98" y="368.30" font-size="10.5" text-anchor="middle" fill="#222" >150</text>
<line x1="676.60" y1="355.80" x2="676.60" y2="358.80" stroke="#3a3a3a" stroke-width="1.1" />
<text x="676.60" y="368.30" font-size="10.5" text-anchor="middle" fill="#222" >200</text>
<line x1="511.81" y1="355.80" x2="511.81" y2="357.60" stroke="#3a3a3a" stroke-width="1.0" />
<line x1="548.43" y1="355.80" x2="548.43" y2="357.60" stroke="#3a3a3a" stroke-width="1.0" />
<line x1="585.05" y1="355.80" x2="585.05" y2="357.60" stroke="#3a3a3a" stroke-width="1.0" />
<line x1="621.67" y1="355.80" x2="621.67" y2="357.60" stroke="#3a3a3a" stroke-width="1.0" />
<line x1="658.29" y1="355.80" x2="658.29" y2="357.60" stroke="#3a3a3a" stroke-width="1.0" />
<text x="584.80" y="382.60" font-size="12.7" text-anchor="middle" fill="#222" >Dielectric constant</text>
<text transform="translate(473.7,282) rotate(-90)" font-size="12.6" text-anchor="middle" fill="#222">Bandgap (eV)</text>
<path d="M534.00,225.00 C534.05,228.33 534.17,238.83 534.30,245.00 C534.43,251.17 534.62,257.17 534.80,262.00 C534.98,266.83 535.17,270.50 535.40,274.00 C535.63,277.50 535.83,280.37 536.20,283.00 C536.57,285.63 537.00,287.87 537.60,289.80 C538.20,291.73 539.03,292.98 539.80,294.60 C540.57,296.22 541.37,297.93 542.20,299.50 C543.03,301.07 543.90,302.58 544.80,304.00 C545.70,305.42 546.57,306.75 547.60,308.00 C548.63,309.25 549.68,310.37 551.00,311.50 C552.32,312.63 553.83,313.82 555.50,314.80 C557.17,315.78 559.08,316.65 561.00,317.40 C562.92,318.15 564.83,318.75 567.00,319.30 C569.17,319.85 571.50,320.27 574.00,320.70 C576.50,321.13 579.33,321.55 582.00,321.90 C584.67,322.25 587.00,322.55 590.00,322.80 C593.00,323.05 596.33,323.22 600.00,323.40 C603.67,323.58 607.83,323.80 612.00,323.90 C616.17,324.00 620.33,324.02 625.00,324.00 C629.67,323.98 635.00,323.92 640.00,323.80 C645.00,323.68 648.97,323.52 655.00,323.30 C661.03,323.08 672.67,322.63 676.20,322.50" stroke="#222" stroke-width="1.3" fill="none" stroke-dasharray="5.5,4" stroke-linejoin="round"/>
<circle cx="536.3" cy="220.0" r="2.0" fill="#8a2be2"/>
<text x="513.5" y="222.6" font-size="8.8" fill="#8a2be2" text-anchor="start" ><tspan>CaF</tspan><tspan font-size="6.3" dy="2.7">2</tspan></text>
<rect x="531.15" y="253.45" width="2.90" height="2.90" fill="#111" />
<text x="513.9" y="253.3" font-size="8.8" fill="#222" text-anchor="start" ><tspan>SiO</tspan><tspan font-size="6.3" dy="2.7">2</tspan></text>
<rect x="534.80" y="256.55" width="2.90" height="2.90" fill="#111" />
<text x="538.9" y="262.7" font-size="8.8" fill="#222" text-anchor="start" ><tspan>Al</tspan><tspan font-size="6.3" dy="2.7">2</tspan><tspan dy="-2.7">O</tspan><tspan font-size="6.3" dy="2.7">3</tspan></text>
<rect x="540.75" y="283.85" width="2.90" height="2.90" fill="#111" />
<text x="544.5" y="283.8" font-size="8.8" fill="#222" text-anchor="start" ><tspan>Y</tspan><tspan font-size="6.3" dy="2.7">2</tspan><tspan dy="-2.7">O</tspan><tspan font-size="6.3" dy="2.7">3</tspan></text>
<circle cx="532.6" cy="289.6" r="1.9" fill="#44e844"/>
<text x="513.80" y="288.50" font-size="8.8" text-anchor="start" fill="#44e844" >h-BN</text>
<rect x="541.25" y="292.85" width="2.90" height="2.90" fill="#111" />
<rect x="542.85" y="294.65" width="2.90" height="2.90" fill="#111" />
<text x="519.9" y="298.4" font-size="8.8" fill="#222" text-anchor="start" ><tspan>HfO</tspan><tspan font-size="6.3" dy="2.7">2</tspan></text>
<text x="550.9" y="300.2" font-size="8.8" fill="#222" text-anchor="start" ><tspan>ZrO</tspan><tspan font-size="6.3" dy="2.7">2</tspan></text>
<rect x="539.75" y="303.75" width="2.90" height="2.90" fill="#111" />
<text x="546.8" y="308.4" font-size="8.8" fill="#222" text-anchor="start" ><tspan>Ta</tspan><tspan font-size="6.3" dy="2.7">2</tspan><tspan dy="-2.7">O</tspan><tspan font-size="6.3" dy="2.7">5</tspan></text>
<rect x="536.65" y="306.95" width="2.90" height="2.90" fill="#111" />
<text x="511.10" y="310.70" font-size="8.8" text-anchor="start" fill="#222" >LaOCl</text>
<circle cx="541.2" cy="312.2" r="1.9" fill="#7a58f0"/>
<circle cx="534.6" cy="315.0" r="1.9" fill="#c8b8f8"/>
<text x="503.8" y="322.0" font-size="8.8" fill="#c4b4f6" text-anchor="start" ><tspan>MnAl</tspan><tspan font-size="6.3" dy="2.7">2</tspan><tspan dy="-2.7">S</tspan><tspan font-size="6.3" dy="2.7">4</tspan></text>
<text x="519.0" y="331.9" font-size="8.8" fill="#8a68f0" text-anchor="start" ><tspan>Bi</tspan><tspan font-size="6.3" dy="2.7">2</tspan><tspan dy="-2.7">SeO</tspan><tspan font-size="6.3" dy="2.7">5</tspan></text>
<circle cx="546.5" cy="320.0" r="1.9" fill="#ffdc30"/>
<text x="550.0" y="328.4" font-size="8.8" fill="#ffe033" text-anchor="start" ><tspan>MoO</tspan><tspan font-size="6.3" dy="2.7">3</tspan></text>
<circle cx="557.4" cy="313.1" r="1.9" fill="#4aa8f8"/>
<text x="563.8" y="317.5" font-size="8.8" fill="#66b8f8" text-anchor="start" ><tspan>Bi</tspan><tspan font-size="6.3" dy="2.7">2</tspan><tspan dy="-2.7">SiO</tspan><tspan font-size="6.3" dy="2.7">5</tspan></text>
<rect x="589.95" y="304.95" width="2.90" height="2.90" fill="#111" />
<text x="578.1" y="302.3" font-size="8.8" fill="#222" text-anchor="start" ><tspan>α-Sb</tspan><tspan font-size="6.3" dy="2.7">2</tspan><tspan dy="-2.7">O</tspan><tspan font-size="6.3" dy="2.7">3</tspan></text>
<rect x="613.85" y="315.25" width="2.90" height="2.90" fill="#111" />
<text x="608.0" y="312.8" font-size="8.8" fill="#222" text-anchor="start" ><tspan>TiO</tspan><tspan font-size="6.3" dy="2.7">2</tspan></text>
<circle cx="608.0" cy="318.7" r="2.0" fill="#f58030"/>
<text x="593.4" y="331.6" font-size="8.8" fill="#f58030" text-anchor="start" ><tspan>SrTiO</tspan><tspan font-size="6.3" dy="2.7">3</tspan></text>
<circle cx="538.6" cy="340.1" r="2.0" fill="#22b030"/>
<text x="541.30" y="348.30" font-size="8.8" text-anchor="start" fill="#22b030" >VOCl</text>
<path d="M628.70,307.70 L629.73,310.58 L632.79,310.67 L630.36,312.54 L631.23,315.48 L628.70,313.75 L626.17,315.48 L627.04,312.54 L624.61,310.67 L627.67,310.58 Z" fill="#ee1111"/>
<text x="620.8" y="303.5" font-size="10" fill="#ee1111" text-anchor="start" font-weight="bold"><tspan>Mn</tspan><tspan font-size="7.2" dy="2.7">3</tspan><tspan dy="-2.7">O</tspan><tspan font-size="7.2" dy="2.7">4</tspan></text>
</svg></body></html>
